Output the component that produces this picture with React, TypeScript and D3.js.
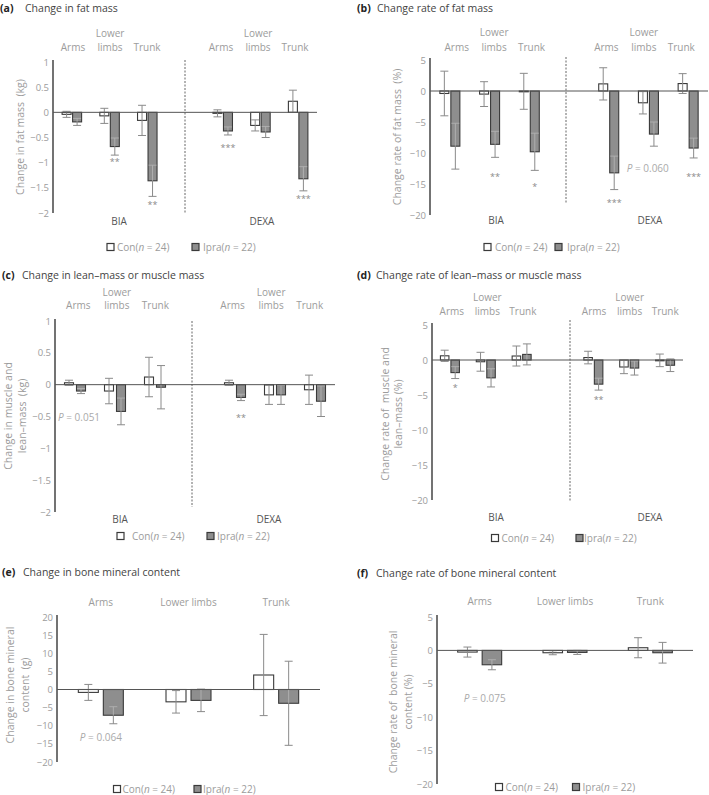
import React from 'react';
import * as d3 from 'd3';

const FONT = "'Open Sans', 'Noto Sans', sans-serif";
const GREY_TEXT = '#9c9c9c';
const DARK = '#3a3a3a';
const IPRA_FILL = '#8e8e8e';
const ERR = '#8a8a8a';
const ERR_IN = '#b0b0b0';

const regionLabels = ['Arms', 'Lower limbs', 'Trunk'];
const methodLabels = ['BIA', 'DEXA'];

const kgTicks = [1, 0.5, 0, -0.5, -1, -1.5, -2];
const pctTicks = [5, 0, -5, -10, -15, -20];
const gTicks = [20, 15, 10, 5, 0, -5, -10, -15, -20];

// (a) change in fat mass (kg): BIA arms, lower limbs, trunk, then DEXA arms, lower limbs, trunk
const fatMassCon = [-0.04, -0.07, -0.16, -0.02, -0.26, 0.22];
const fatMassConErr = [0.06, 0.15, 0.3, 0.07, 0.11, 0.22];
const fatMassIpra = [-0.19, -0.68, -1.36, -0.37, -0.39, -1.32];
const fatMassIpraErr = [0.07, 0.17, 0.31, 0.08, 0.11, 0.24];
const fatMassStars = ['', '**', '**', '***', '', '***'];
const fatMassStarAt = [0, -0.97, -1.83, -0.69, 0, -1.7];

// (b) change rate of fat mass (%)
const fatRateCon = [-0.4, -0.5, -0.05, 1.15, -1.9, 1.2];
const fatRateConErr = [3.6, 2.0, 2.9, 2.6, 1.8, 1.6];
const fatRateIpra = [-8.9, -8.6, -9.8, -13.2, -6.95, -9.2];
const fatRateIpraErr = [3.7, 2.1, 3.0, 2.7, 1.95, 1.6];
const fatRateStars = ['', '**', '*', '***', '', '***'];
const fatRateStarAt = [0, -13.7, -15.4, -17.9, 0, -13.7];

// (c) change in lean-mass or muscle mass (kg)
const leanCon = [0.03, -0.1, 0.12, 0.03, -0.16, -0.08];
const leanConErr = [0.04, 0.2, 0.31, 0.04, 0.15, 0.23];
const leanIpra = [-0.1, -0.42, -0.04, -0.2, -0.16, -0.26];
const leanIpraErr = [0.04, 0.21, 0.34, 0.05, 0.15, 0.24];
const leanStars = ['', '', '', '**', '', ''];
const leanStarAt = [0, 0, 0, -0.5, 0, 0];

// (d) change rate of lean-mass or muscle mass (%)
const leanRateCon = [0.6, -0.25, 0.57, 0.35, -1.0, -0.05];
const leanRateConErr = [0.8, 1.35, 1.43, 0.9, 0.95, 0.9];
const leanRateIpra = [-1.8, -2.55, 0.8, -3.45, -1.15, -0.75];
const leanRateIpraErr = [0.85, 1.3, 1.5, 0.85, 1.0, 0.9];
const leanRateStars = ['*', '', '', '**', '', ''];
const leanRateStarAt = [-3.9, 0, 0, -5.6, 0, 0];

// (e) change in bone mineral content (g): arms, lower limbs, trunk
const bmcCon = [-0.8, -3.4, 4.0];
const bmcConErr = [2.2, 3.1, 11.2];
const bmcIpra = [-7.1, -3.0, -3.8];
const bmcIpraErr = [2.35, 3.1, 11.6];

// (f) change rate of bone mineral content (%)
const bmcRateCon = [-0.25, -0.35, 0.4];
const bmcRateConErr = [0.75, 0.3, 1.5];
const bmcRateIpra = [-2.15, -0.3, -0.35];
const bmcRateIpraErr = [0.75, 0.3, 1.55];

const fmt = (d: number) => (d < 0 ? '\u2212' + Math.abs(d) : String(d));

interface Note { text: string; idx: number; at: number; dx: number }

interface PanelProps {
  id: string;
  letter: string;
  title: string;
  titleX: number;
  titleTextX: number;
  titleY: number;
  axisX: number;
  right: number;
  yTop: number;
  yBottom: number;
  domain: [number, number];
  ticks: number[];
  slots: number;
  slotOf: number[];
  labelRange?: [number, number];
  twoLineLabels: boolean;
  lowerY?: number;
  labelY: number;
  divider?: [number, number, number];
  groupY?: number;
  groupX?: number[];
  legendY: number;
  legend: number[];
  yLabel: string[];
  yLabelX: number[];
  yLabelY: number;
  bw: number;
  gap: number;
  con: number[];
  conErr: number[];
  ipra: number[];
  ipraErr: number[];
  stars?: string[];
  starAt?: number[];
  note?: Note;
}

const Panel: React.FC<PanelProps> = (p) => {
  const y = d3.scaleLinear().domain(p.domain).range([p.yBottom, p.yTop]);
  const x = d3.scaleBand<number>().domain(d3.range(p.slots)).range([p.axisX, p.right]);
  const xl = d3.scaleBand<number>().domain(d3.range(p.slots))
    .range(p.labelRange || [p.axisX, p.right]);
  const cx = (i: number) => (x(p.slotOf[i]) as number) + x.bandwidth() / 2;
  const lx = (i: number) => (xl(p.slotOf[i]) as number) + xl.bandwidth() / 2;
  const y0 = y(0);

  const whisker = (mid: number, v: number, e: number, color: string) => (
    <g stroke={color} strokeWidth={1}>
      <line x1={mid} x2={mid} y1={y(v + e)} y2={y(v - e)} />
      <line x1={mid - 4} x2={mid + 4} y1={y(v + e)} y2={y(v + e)} />
      <line x1={mid - 4} x2={mid + 4} y1={y(v - e)} y2={y(v - e)} />
    </g>
  );

  const bar = (v: number, e: number, left: number, fill: string, key: string) => {
    const top = Math.min(y(v), y0);
    const h = Math.max(Math.abs(y(v) - y0), 0.8);
    const mid = left + p.bw / 2;
    const clipId = `${p.id}-${key}`;
    return (
      <g key={key}>
        <clipPath id={clipId}>
          <rect x={left + 0.6} y={top + 0.6} width={Math.max(p.bw - 1.2, 0)} height={Math.max(h - 1.2, 0)} />
        </clipPath>
        <rect x={left} y={top} width={p.bw} height={h} fill={fill} stroke={DARK} strokeWidth={1.1} />
        {whisker(mid, v, e, ERR)}
        {fill !== '#fff' && <g clipPath={`url(#${clipId})`}>{whisker(mid, v, e, ERR_IN)}</g>}
      </g>
    );
  };

  const cats = p.slotOf.map((_, i) => regionLabels[i % 3]);

  return (
    <g fontFamily={FONT}>
      <text x={p.titleX} y={p.titleY} dominantBaseline="central" fontSize={10.5} fontWeight="bold" fill="#222">{p.letter}</text>
      <text x={p.titleTextX} y={p.titleY} dominantBaseline="central" fontSize={10.5} fill="#444">{p.title}</text>

      {/* category labels */}
      {cats.map((c, i) => {
        if (p.twoLineLabels && c === 'Lower limbs') {
          return (
            <g key={'c' + i} fill={GREY_TEXT} fontSize={10} textAnchor="middle">
              <text x={lx(i)} y={p.lowerY} dominantBaseline="central">Lower</text>
              <text x={lx(i)} y={p.labelY} dominantBaseline="central">limbs</text>
            </g>
          );
        }
        return (
          <text key={'c' + i} x={lx(i)} y={p.labelY} dominantBaseline="central" textAnchor="middle" fontSize={10} fill={GREY_TEXT}>{c}</text>
        );
      })}

      {/* y axis */}
      <line x1={p.axisX} x2={p.axisX} y1={p.yTop - 2} y2={p.yBottom} stroke="#444" strokeWidth={1.5} />
      {p.ticks.map((t) => (
        <text key={'t' + t} x={p.axisX - 4} y={y(t)} dominantBaseline="central" textAnchor="end" fontSize={9.5} fill={GREY_TEXT}>{fmt(t)}</text>
      ))}
      {p.yLabel.map((l, i) => (
        <text key={'yl' + i} transform={`translate(${p.yLabelX[i]},${p.yLabelY}) rotate(-90)`} textAnchor="middle" dominantBaseline="central" fontSize={10.5} fill={GREY_TEXT} style={{ whiteSpace: 'pre' }}>{l}</text>
      ))}

      {p.divider && (
        <line x1={p.divider[0]} x2={p.divider[0]} y1={p.divider[1]} y2={p.divider[2]} stroke="#666" strokeWidth={1} strokeDasharray="2,1.5" />
      )}

      {/* bars */}
      {p.con.map((v, i) => bar(v, p.conErr[i], cx(i) - p.gap / 2 - p.bw, '#fff', 'con' + i))}
      {p.ipra.map((v, i) => bar(v, p.ipraErr[i], cx(i) + p.gap / 2, IPRA_FILL, 'ip' + i))}

      <line x1={p.axisX} x2={p.right} y1={y0} y2={y0} stroke="#555" strokeWidth={1} />

      {p.stars && p.stars.map((s, i) => s ? (
        <text key={'s' + i} x={cx(i) + p.gap / 2 + p.bw / 2} y={y(p.starAt![i]) + 4} textAnchor="middle" fontSize={9} fill="#8a8a8a">{s}</text>
      ) : null)}

      {p.note && (
        <text x={cx(p.note.idx) + p.note.dx} y={y(p.note.at)} dominantBaseline="central" fontSize={10} fill="#aaa">
          <tspan fontStyle="italic">P</tspan>{' = ' + p.note.text}
        </text>
      )}

      {p.groupX && methodLabels.map((m, i) => (
        <text key={m} x={p.groupX![i]} y={p.groupY} dominantBaseline="central" textAnchor="middle" fontSize={10} fill="#555">{m}</text>
      ))}

      {/* legend */}
      <rect x={p.legend[0]} y={p.legendY - 3.5} width={7} height={7} fill="#fff" stroke={DARK} strokeWidth={1.2} />
      <text x={p.legend[1]} y={p.legendY} dominantBaseline="central" fontSize={10} fill={GREY_TEXT}>
        Con(<tspan fontStyle="italic">n</tspan> = 24)
      </text>
      <rect x={p.legend[2]} y={p.legendY - 3.5} width={7} height={7} fill={IPRA_FILL} stroke={DARK} strokeWidth={1.2} />
      <text x={p.legend[3]} y={p.legendY} dominantBaseline="central" fontSize={10} fill={GREY_TEXT}>
        Ipra(<tspan fontStyle="italic">n</tspan> = 22)
      </text>
    </g>
  );
};

const six = [0, 1, 2, 4, 5, 6];
const three = [0, 1, 2];

export default function App() {
  return (
    <>
      <style>{'body{margin:0;background:#fff}'}</style>
      <svg width={709} height={795} style={{ display: 'block' }}>
        <Panel id="a" letter="(a)" title="Change in fat mass" titleX={0} titleTextX={25} titleY={8}
          axisX={53} right={317} yTop={62} yBottom={213} domain={[-2, 1]} ticks={kgTicks}
          slots={7} slotOf={six} labelRange={[54.5, 313.5]} twoLineLabels lowerY={33} labelY={47}
          divider={[185, 60, 213]} groupY={221} groupX={[119, 262]}
          legendY={247} legend={[107, 117, 192, 203]}
          yLabel={['Change in fat mass  (kg)']} yLabelX={[20]} yLabelY={137}
          bw={9} gap={1.5}
          con={fatMassCon} conErr={fatMassConErr} ipra={fatMassIpra} ipraErr={fatMassIpraErr}
          stars={fatMassStars} starAt={fatMassStarAt} />

        <Panel id="b" letter="(b)" title="Change rate of fat mass" titleX={357} titleTextX={377} titleY={8}
          axisX={430} right={708} yTop={60} yBottom={215} domain={[-20, 5]} ticks={pctTicks}
          slots={7} slotOf={six} labelRange={[438, 700]} twoLineLabels lowerY={32} labelY={47}
          divider={[566, 57, 203]} groupY={220} groupX={[496, 650]}
          legendY={247} legend={[484, 495, 555, 567]}
          yLabel={['Change rate of fat mass  (%)']} yLabelX={[397]} yLabelY={137}
          bw={9} gap={2}
          con={fatRateCon} conErr={fatRateConErr} ipra={fatRateIpra} ipraErr={fatRateIpraErr}
          stars={fatRateStars} starAt={fatRateStarAt}
          note={{ text: '0.060', idx: 3, at: -12.4, dx: 18 }} />

        <Panel id="c" letter="(c)" title="Change in lean–mass or muscle mass" titleX={2} titleTextX={22} titleY={275}
          axisX={55} right={335} yTop={321} yBottom={512} domain={[-2, 1]} ticks={kgTicks}
          slots={7} slotOf={six} labelRange={[59, 329]} twoLineLabels lowerY={292} labelY={305}
          divider={[192, 321, 507]} groupY={519} groupX={[120, 269]}
          legendY={536} legend={[117, 132, 207, 217]}
          yLabel={['Change in muscle and', 'lean–mass  (kg)']} yLabelX={[8, 22]} yLabelY={416}
          bw={9} gap={3}
          con={leanCon} conErr={leanConErr} ipra={leanIpra} ipraErr={leanIpraErr}
          stars={leanStars} starAt={leanStarAt}
          note={{ text: '0.051', idx: 0, at: -0.51, dx: -17 }} />

        <Panel id="d" letter="(d)" title="Change rate of lean–mass or muscle mass" titleX={357} titleTextX={376} titleY={275}
          axisX={432} right={683} yTop={325} yBottom={500} domain={[-20, 5]} ticks={pctTicks}
          slots={7} slotOf={six} labelRange={[434, 683]} twoLineLabels lowerY={297} labelY={311}
          divider={[570, 320, 502]} groupY={517} groupX={[496, 650]}
          legendY={538} legend={[491.5, 501.5, 576, 584]}
          yLabel={['Change rate of  muscle and', 'lean–mass (%)']} yLabelX={[385, 398]} yLabelY={414}
          bw={8.5} gap={2}
          con={leanRateCon} conErr={leanRateConErr} ipra={leanRateIpra} ipraErr={leanRateIpraErr}
          stars={leanRateStars} starAt={leanRateStarAt} />

        <Panel id="e" letter="(e)" title="Change in bone mineral content" titleX={2} titleTextX={23} titleY={572}
          axisX={57} right={320} yTop={617} yBottom={762} domain={[-20, 20]} ticks={gTicks}
          slots={3} slotOf={three} twoLineLabels={false} labelY={602}
          legendY={789} legend={[113.5, 122.5, 194, 203]}
          yLabel={['Change in bone mineral', 'content  (g)']} yLabelX={[10, 25]} yLabelY={685}
          bw={20} gap={5}
          con={bmcCon} conErr={bmcConErr} ipra={bmcIpra} ipraErr={bmcIpraErr}
          note={{ text: '0.064', idx: 0, at: -13, dx: -21 }} />

        <Panel id="f" letter="(f)" title="Change rate of  bone mineral content" titleX={357} titleTextX={376} titleY={573}
          axisX={437} right={693} yTop={617} yBottom={784} domain={[-20, 5]} ticks={pctTicks}
          slots={3} slotOf={three} twoLineLabels={false} labelY={601}
          legendY={787} legend={[495.5, 505.5, 572.5, 582.5]}
          yLabel={['Change rate of  bone mineral', 'content (%)']} yLabelX={[393, 408]} yLabelY={702}
          bw={19.5} gap={5}
          con={bmcRateCon} conErr={bmcRateConErr} ipra={bmcRateIpra} ipraErr={bmcRateIpraErr}
          note={{ text: '0.075', idx: 0, at: -7.1, dx: -16 }} />
      </svg>
    </>
  );
}
